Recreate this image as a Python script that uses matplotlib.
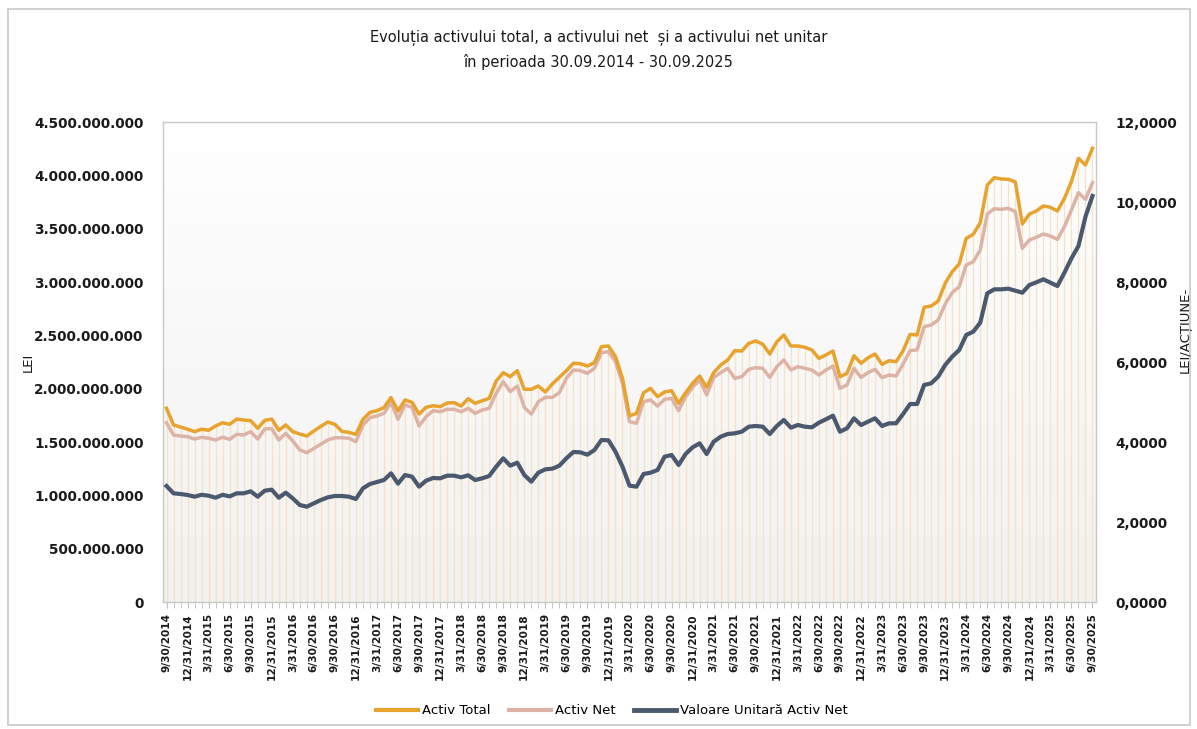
import matplotlib
matplotlib.use("Agg")
import matplotlib.pyplot as plt
import numpy as np
import pandas as pd
from matplotlib.patches import Rectangle
from matplotlib.lines import Line2D
from matplotlib.ticker import FuncFormatter, MultipleLocator

# ---------------- data ----------------
dates = pd.date_range("2014-09-30", periods=133, freq="ME")
date_labels = [f"{d.month}/{d.day}/{d.year}" for d in dates]

# Activ Total (billions lei)
activ_total = [
    1.816, 1.66, 1.64, 1.62, 1.597, 1.62, 1.61, 1.65, 1.68, 1.666,
    1.715, 1.706, 1.70, 1.628, 1.703, 1.715, 1.61, 1.66, 1.597, 1.575,
    1.556, 1.603, 1.647, 1.687, 1.666, 1.60, 1.59, 1.572, 1.713, 1.778,
    1.794, 1.822, 1.916, 1.79, 1.894, 1.872, 1.762, 1.825, 1.84, 1.831,
    1.866, 1.869, 1.837, 1.906, 1.862, 1.887, 1.909, 2.072, 2.15, 2.112,
    2.169, 1.994, 1.994, 2.025, 1.969, 2.044, 2.106, 2.169, 2.238, 2.234,
    2.212, 2.244, 2.394, 2.40, 2.30, 2.097, 1.745, 1.769, 1.962, 2.003,
    1.925, 1.969, 1.981, 1.862, 1.962, 2.05, 2.119, 2.013, 2.15, 2.222,
    2.269, 2.356, 2.353, 2.425, 2.447, 2.416, 2.325, 2.44, 2.503, 2.40,
    2.40, 2.388, 2.363, 2.284, 2.316, 2.353, 2.112, 2.144, 2.309, 2.238,
    2.29, 2.325, 2.228, 2.262, 2.253, 2.356, 2.509, 2.503, 2.763, 2.775,
    2.822, 2.988, 3.097, 3.169, 3.409, 3.447, 3.556, 3.909, 3.978, 3.966,
    3.963, 3.938, 3.544, 3.637, 3.666, 3.713, 3.70, 3.666, 3.784, 3.941,
    4.159, 4.097, 4.253,
]

# Activ Net (billions lei)
activ_net = [
    1.681, 1.566, 1.556, 1.55, 1.528, 1.544, 1.535, 1.519, 1.544, 1.525,
    1.572, 1.566, 1.597, 1.528, 1.622, 1.625, 1.519, 1.581, 1.509, 1.425,
    1.40, 1.44, 1.481, 1.519, 1.54, 1.54, 1.535, 1.503, 1.66, 1.728,
    1.744, 1.769, 1.869, 1.713, 1.847, 1.825, 1.65, 1.737, 1.794, 1.784,
    1.806, 1.806, 1.784, 1.816, 1.769, 1.80, 1.816, 1.956, 2.066, 1.972,
    2.025, 1.825, 1.762, 1.878, 1.919, 1.919, 1.962, 2.097, 2.175, 2.169,
    2.144, 2.191, 2.337, 2.347, 2.253, 2.05, 1.69, 1.675, 1.878, 1.894,
    1.837, 1.90, 1.909, 1.794, 1.925, 2.013, 2.081, 1.941, 2.106, 2.15,
    2.191, 2.097, 2.112, 2.181, 2.197, 2.191, 2.106, 2.206, 2.269, 2.175,
    2.206, 2.191, 2.175, 2.128, 2.175, 2.212, 2.003, 2.034, 2.191, 2.106,
    2.15, 2.181, 2.103, 2.128, 2.119, 2.231, 2.356, 2.363, 2.581, 2.597,
    2.644, 2.794, 2.90, 2.956, 3.159, 3.19, 3.30, 3.637, 3.687, 3.681,
    3.691, 3.659, 3.316, 3.394, 3.419, 3.45, 3.431, 3.40, 3.519, 3.675,
    3.837, 3.775, 3.931,
]

# Valoare Unitara Activ Net (lei / actiune)
valoare_unitara = [
    2.90, 2.717, 2.70, 2.675, 2.633, 2.68, 2.658, 2.608, 2.68, 2.64,
    2.717, 2.717, 2.767, 2.633, 2.783, 2.808, 2.608, 2.733, 2.59, 2.425,
    2.383, 2.467, 2.55, 2.617, 2.65, 2.65, 2.633, 2.575, 2.842, 2.95,
    3.00, 3.05, 3.217, 2.96, 3.175, 3.133, 2.883, 3.033, 3.10, 3.092,
    3.158, 3.158, 3.117, 3.167, 3.05, 3.092, 3.15, 3.383, 3.592, 3.408,
    3.483, 3.175, 3.008, 3.233, 3.317, 3.333, 3.408, 3.592, 3.75, 3.742,
    3.683, 3.80, 4.05, 4.042, 3.758, 3.383, 2.908, 2.883, 3.20, 3.233,
    3.30, 3.633, 3.675, 3.425, 3.70, 3.867, 3.967, 3.70, 4.008, 4.133,
    4.20, 4.217, 4.258, 4.383, 4.40, 4.383, 4.20, 4.40, 4.55, 4.358,
    4.425, 4.383, 4.367, 4.483, 4.567, 4.658, 4.258, 4.342, 4.592, 4.425,
    4.508, 4.592, 4.40, 4.467, 4.467, 4.70, 4.95, 4.95, 5.425, 5.467,
    5.633, 5.925, 6.133, 6.30, 6.675, 6.758, 6.983, 7.717, 7.817, 7.817,
    7.833, 7.783, 7.733, 7.925, 7.992, 8.067, 7.983, 7.90, 8.233, 8.592,
    8.90, 9.633, 10.15,
]

series_names = ["Activ Total", "Activ Net", "Valoare Unitară Activ Net"]
title_lines = ["Evoluția activului total, a activului net  și a activului net unitar",
               "în perioada 30.09.2014 - 30.09.2025"]

# ---------------- style ----------------
C_TOTAL = "#E8A22E"
C_NET = "#DDB3A5"
C_UNIT = "#4A596D"
C_DROP = "#F6E3C4"
FONT = "DejaVu Sans"
plt.rcParams["font.family"] = [FONT]

fig = plt.figure(figsize=(11.97, 7.29), dpi=100)
W, H = 1197, 729

def fx(px):
    return px / W

def fy(py):
    return 1 - py / H

# outer border
fig.patches.append(Rectangle((fx(8), fy(725)), fx(1190) - fx(8), fy(9) - fy(725),
                             transform=fig.transFigure, fill=False,
                             edgecolor="#c8c8c8", lw=1.2))

ax = fig.add_axes([fx(163), fy(602), fx(1096) - fx(163), fy(122) - fy(602)])
ax.set_facecolor("none")
x = np.arange(len(dates))
tot = np.array(activ_total) * 1e9
net = np.array(activ_net) * 1e9

# gradient background
grad = np.linspace(0, 1, 256).reshape(-1, 1)
top_c = np.array([1.0, 1.0, 1.0])
bot_c = np.array([0.945, 0.945, 0.945])
img = top_c[None, None, :] * (1 - grad[:, :, None]) + bot_c[None, None, :] * grad[:, :, None]
ax.imshow(img, extent=[0, 1, 0, 1], transform=ax.transAxes, aspect="auto", zorder=0)

# drop lines
ax.vlines(x, 0, tot, colors=C_DROP, lw=0.9, zorder=1)
ax.plot(x, net, color=C_NET, lw=2.5, zorder=3, solid_joinstyle="round")
ax.plot(x, tot, color=C_TOTAL, lw=2.5, zorder=4, solid_joinstyle="round")

ax.set_xlim(-0.5, len(dates) - 0.5)
ax.set_ylim(0, 4.5e9)
ax.yaxis.set_major_locator(MultipleLocator(5e8))
ax.yaxis.set_major_formatter(FuncFormatter(lambda v, p: f"{int(round(v)):,}".replace(",", ".")))
ax.tick_params(axis="y", length=0, pad=14, labelsize=9.8, labelcolor="#1a1a1a")

ax.set_xticks(x[::3])
ax.set_xticklabels(date_labels[::3], rotation=90, fontsize=7.6, color="#1a1a1a")
ax.set_xticks(x, minor=True)
ax.tick_params(axis="x", which="both", length=4, color="#bfbfbf", pad=4)

for s in ax.spines.values():
    s.set_color("#c8c8c8")
    s.set_linewidth(1.0)

ax2 = ax.twinx()
ax2.plot(x, valoare_unitara, color=C_UNIT, lw=3.0, zorder=5, solid_joinstyle="round")
ax2.set_ylim(0, 12)
ax2.yaxis.set_major_locator(MultipleLocator(2))
ax2.yaxis.set_major_formatter(FuncFormatter(lambda v, p: f"{v:.4f}".replace(".", ",")))
ax2.tick_params(axis="y", length=0, pad=14, labelsize=9.8, labelcolor="#1a1a1a")
for s in ax2.spines.values():
    s.set_visible(False)

for t in ax.get_yticklabels() + ax2.get_yticklabels():
    t.set_fontweight("semibold")
for t in ax.get_xticklabels():
    t.set_fontweight("semibold")

# axis titles
fig.text(fx(28), fy(362), "LEI", rotation=90, ha="center", va="center", fontsize=9.5, color="#1a1a1a")
fig.text(fx(1185), fy(330), "LEI/ACȚIUNE-", rotation=90, ha="center", va="center", fontsize=9.5, color="#1a1a1a")

# title
fig.text(0.5, fy(38), title_lines[0], ha="center", va="center", fontsize=10.5, color="#1a1a1a")
fig.text(0.5, fy(62), title_lines[1], ha="center", va="center", fontsize=10.5, color="#1a1a1a")

# legend
handles = [Line2D([], [], color=C_TOTAL, lw=3),
           Line2D([], [], color=C_NET, lw=3),
           Line2D([], [], color=C_UNIT, lw=3.5)]
fig.legend(handles, series_names, loc="center", bbox_to_anchor=(fx(612), fy(711)),
           ncol=3, frameon=False, fontsize=9.5, handlelength=3.2, handletextpad=0.3,
           columnspacing=1.4)

fig.savefig("out.png", dpi=100)
